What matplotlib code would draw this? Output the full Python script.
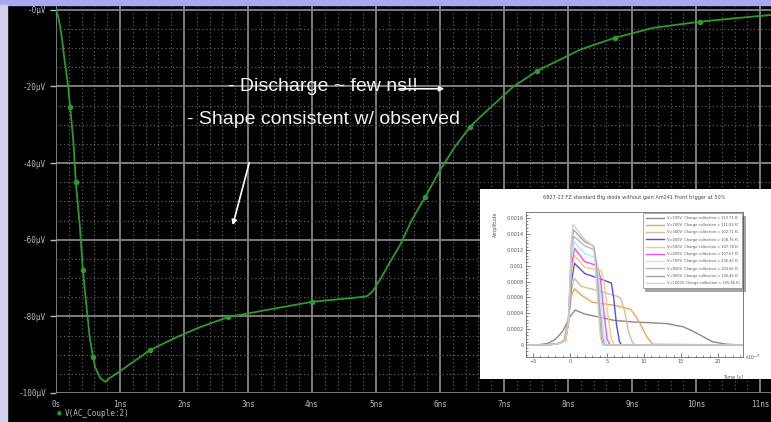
import matplotlib.pyplot as plt
import matplotlib.patches as patches
from matplotlib.ticker import MultipleLocator
import numpy as np

# LTspice transient: V(AC_Couple:2), time in ns, voltage in uV
t_ns = [0.0, 0.03, 0.06, 0.094, 0.125, 0.17, 0.19, 0.23, 0.27, 0.31, 0.375, 0.42, 0.48, 0.53,
        0.58, 0.61, 0.69, 0.77, 0.84, 1.0, 1.47, 1.86, 2.25, 2.69, 3.3, 4.0, 4.5, 4.8, 4.86,
        4.94, 5.06, 5.22, 5.375, 5.56, 5.77, 6.0, 6.23, 6.47, 6.63, 7.14, 7.52, 8.19, 8.73,
        9.33, 10.06, 10.6, 11.2]
v_uV = [0.0, -1.5, -4.0, -7.5, -12.0, -17.5, -20.0, -27.0, -34.0, -45.0, -57.0, -68.0, -78.0, -86.0,
        -90.5, -93.2, -96.1, -97.1, -96.1, -94.3, -88.8, -85.6, -82.8, -80.2, -78.3, -76.2, -75.4, -74.9, -74.7,
        -73.6, -70.5, -65.8, -61.4, -54.8, -48.8, -41.8, -35.8, -30.5, -27.9, -20.1, -15.9, -10.4, -7.3,
        -4.7, -3.1, -2.2, -1.3]
# simulation points shown as dots on the trace
dot_t = [0.22, 0.31, 0.42, 0.58, 1.47, 2.69, 4.0, 5.77, 6.47, 7.52, 8.73, 10.06]

x_ticks = [0, 1, 2, 3, 4, 5, 6, 7, 8, 9, 10, 11]
x_labels = ["0s", "1ns", "2ns", "3ns", "4ns", "5ns", "6ns", "7ns", "8ns", "9ns", "10ns", "11ns"]
y_ticks = [0, -20, -40, -60, -80, -100]
y_labels = ["-0µV", "-20µV", "-40µV", "-60µV", "-80µV", "-100µV"]

# measured pulses (time in 1e-9 s), one per bias voltage
pulse_names = ["V=100V  Charge collection = 113.71 fC", "V=200V  Charge collection = 111.03 fC",
               "V=300V  Charge collection = 102.71 fC", "V=400V  Charge collection = 108.76 fC",
               "V=500V  Charge collection = 107.78 fC", "V=600V  Charge collection = 107.67 fC",
               "V=700V  Charge collection = 106.45 fC", "V=800V  Charge collection = 104.66 fC",
               "V=900V  Charge collection = 106.46 fC", "V=1000V Charge collection = 105.66 fC"]
pulse_colors = ["#8a8a8a", "#e8a850", "#d8bc98", "#5050e8", "#f4c880",
                "#f050f0", "#b0ecf4", "#b4b4b4", "#a4a4a4", "#d0d0d0"]

t100 = [-6, -4.5, -3, -2, -1, 0, 0.7, 2, 4, 6, 8.6, 11, 13.1, 15.3, 16.5, 17.6, 19.3, 21.2, 23.4]
a100 = [0, 0, 0.00002, 0.00007, 0.00017, 0.00036, 0.00044, 0.00039, 0.00035, 0.00031, 0.00029,
        0.00028, 0.00027, 0.00023, 0.00018, 0.000126, 0.00004, 0.00001, 0]
t200 = [-6, -3, -1.5, -0.8, -0.3, 0.2, 0.6, 1.5, 3, 6, 8.2, 9, 9.6, 10.4, 11.2, 23.4]
a200 = [0, 0, 0.00002, 0.00006, 0.0003, 0.00062, 0.00071, 0.00063, 0.00054, 0.0005, 0.00045,
        0.00035, 0.00025, 0.0001, 0.00001, 0]
t300 = [-6, -3, -1.5, -0.6, -0.2, 0.2, 0.6, 1.5, 4, 6.5, 6.9, 7.4, 7.9, 8.4, 8.8, 23.4]
a300 = [0, 0, 0.00002, 0.00006, 0.0003, 0.0007, 0.00084, 0.00074, 0.00068, 0.00061, 0.00058,
        0.00042, 0.00018, 0.00004, 0, 0]
t400 = [-6, -3, -1.5, -0.6, -0.2, 0.2, 0.6, 2, 4.5, 5.6, 5.9, 6.3, 6.7, 7.0, 23.4]
a400 = [0, 0, 0.00002, 0.00006, 0.0003, 0.0008, 0.00103, 0.0009, 0.00082, 0.00078, 0.0006,
        0.00025, 0.00004, 0, 0]
t500 = [-6, -3, -1.5, -0.6, -0.2, 0.2, 0.6, 2, 4.2, 4.6, 5.1, 5.6, 6.0, 23.4]
a500 = [0, 0, 0.00002, 0.00006, 0.0003, 0.0009, 0.00113, 0.00098, 0.00094, 0.0008, 0.0004,
        0.00008, 0, 0]
t600 = [-6, -3, -1.5, -0.6, -0.2, 0.2, 0.6, 2, 3.7, 4.1, 4.6, 5.0, 5.4, 23.4]
a600 = [0, 0, 0.00002, 0.00006, 0.0003, 0.001, 0.00122, 0.00105, 0.001, 0.00085, 0.0004,
        0.00008, 0, 0]
t700 = [-6, -3, -1.5, -0.6, -0.2, 0.2, 0.6, 2, 3.5, 3.8, 4.2, 4.6, 5.0, 23.4]
a700 = [0, 0, 0.00002, 0.00006, 0.0003, 0.0011, 0.0013, 0.00115, 0.0011, 0.00095, 0.0005,
        0.0001, 0, 0]
t800 = [-6, -3, -1.5, -0.6, -0.2, 0.2, 0.5, 2, 3.3, 3.6, 4.0, 4.4, 4.7, 23.4]
a800 = [0, 0, 0.00002, 0.00006, 0.0003, 0.0012, 0.00137, 0.00125, 0.0012, 0.001, 0.0005,
        0.0001, 0, 0]
t900 = [-6, -3, -1.5, -0.6, -0.2, 0.2, 0.5, 2, 3.2, 3.5, 3.9, 4.2, 4.5, 23.4]
a900 = [0, 0, 0.00002, 0.00006, 0.0003, 0.0013, 0.00145, 0.0013, 0.00125, 0.00105, 0.0005,
        0.0001, 0, 0]
t1000 = [-6, -3, -1.5, -0.6, -0.2, 0.2, 0.4, 2, 3.1, 3.4, 3.8, 4.1, 4.4, 23.4]
a1000 = [0, 0, 0.00002, 0.00006, 0.0003, 0.0013, 0.00152, 0.00133, 0.00125, 0.00105, 0.0005,
         0.0001, 0, 0]
pulse_t = [t100, t200, t300, t400, t500, t600, t700, t800, t900, t1000]
pulse_a = [a100, a200, a300, a400, a500, a600, a700, a800, a900, a1000]

fig = plt.figure(figsize=(7.71, 4.22), dpi=100, facecolor="black")

# window frame strips
fig.patches.append(patches.Rectangle((0, 1 - 5 / 422), 1, 5 / 422, transform=fig.transFigure,
                                     color="#a8a8f4", zorder=0))
fig.patches.append(patches.Rectangle((0, 0), 7 / 771, 1 - 5 / 422, transform=fig.transFigure,
                                     color="#d2d2ee", zorder=0))

ax = fig.add_axes([56 / 771, 1 - 393 / 422, 1 - 56 / 771, (393 - 6) / 422])
ax.set_facecolor("black")
ax.set_xlim(0, 11.17)
ax.set_ylim(-100, 1.0)

ax.xaxis.set_minor_locator(MultipleLocator(0.2))
ax.yaxis.set_minor_locator(MultipleLocator(5))
ax.grid(which="major", color="#858585", lw=1.3)
ax.grid(which="minor", color="#5c5c5c", lw=0.9, linestyle=(0, (1, 2)))
ax.set_axisbelow(True)
for s in ax.spines.values():
    s.set_visible(False)

ax.set_xticks(x_ticks)
ax.set_xticklabels(x_labels)
ax.set_yticks(y_ticks)
ax.set_yticklabels(y_labels)
ax.tick_params(which="major", colors="#b8b8b8", labelsize=5.5, length=4, width=1.0, pad=3)
ax.tick_params(axis="x", length=0, pad=5)
ax.tick_params(which="minor", length=0)
for lab in ax.get_xticklabels() + ax.get_yticklabels():
    lab.set_family("DejaVu Sans Mono")

ax.plot(t_ns, v_uV, color="#2e9a2e", lw=1.3, zorder=3)
ax.plot(dot_t, np.interp(dot_t, t_ns, v_uV), "o", color="#2e9a2e", ms=3, zorder=3)

# notes on the plot
ax.text(2.69, -20.0, "- Discharge ~ few ns!!", color="#f2f2f2", fontsize=14,
        family="Liberation Sans", ha="left", va="center", zorder=5)
ax.text(2.05, -28.5, "- Shape consistent w/ observed", color="#f2f2f2", fontsize=14,
        family="Liberation Sans", ha="left", va="center", zorder=5)
ax.annotate("", xy=(6.11, -20.6), xytext=(5.33, -20.6),
            arrowprops=dict(arrowstyle="-|>", color="white", lw=1.2, mutation_scale=7), zorder=5)
ax.annotate("", xy=(2.75, -56.9), xytext=(3.03, -39.2),
            arrowprops=dict(arrowstyle="-|>", color="white", lw=1.2, mutation_scale=7), zorder=5)

# trace name below the plot
fig.text(59 / 771, 1 - 413 / 422, "●", color="#2e9a2e", fontsize=4, ha="center", va="center")
fig.text(65 / 771, 1 - 413 / 422, "V(AC_Couple:2)", color="#b8b8b8", fontsize=5.5,
         family="DejaVu Sans Mono", ha="left", va="center")

# pasted measurement plot
bg = fig.add_axes([480 / 771, 1 - 379 / 422, 291 / 771, 190 / 422])
bg.set_facecolor("white")
bg.set_xticks([])
bg.set_yticks([])
for s in bg.spines.values():
    s.set_visible(False)
bg.text(0.53, 0.955, "6827-13 FZ standard Big diode without gain Am241 Front trigger at 50%",
        transform=bg.transAxes, fontsize=3.6, ha="center", va="center", color="#444444")

ins = fig.add_axes([526 / 771, 1 - 357 / 422, 217 / 771, 145 / 422])
ins.set_facecolor("white")
for tt, aa, c, name in zip(pulse_t, pulse_a, pulse_colors, pulse_names):
    ins.plot(tt, aa, color=c, lw=1.0, label=name)
ins.set_xlim(-5.95, 23.4)
ins.set_ylim(-0.000151, 0.001676)
ins.set_xticks([-5, 0, 5, 10, 15, 20])
ins.set_yticks([0, 0.0002, 0.0004, 0.0006, 0.0008, 0.001, 0.0012, 0.0014, 0.0016])
ins.set_yticklabels(["0", "0.0002", "0.0004", "0.0006", "0.0008", "0.001", "0.0012", "0.0014", "0.0016"])
ins.xaxis.set_minor_locator(MultipleLocator(1))
ins.yaxis.set_minor_locator(MultipleLocator(0.00004))
ins.tick_params(which="both", direction="in", labelsize=3.5, colors="#555555", width=0.5, pad=1.5)
ins.tick_params(which="major", length=3)
ins.tick_params(which="minor", length=1.5)
for s in ins.spines.values():
    s.set_color("#666666")
    s.set_linewidth(0.6)
ins.text(1.0, -0.12, "Time [s]", transform=ins.transAxes, fontsize=3.5, ha="right", va="top",
         color="#555555")
ins.text(1.005, 0.0, "×10$^{-9}$", transform=ins.transAxes, fontsize=3.3, ha="left", va="center",
         color="#555555")
ins.text(-0.13, 1.0, "Amplitude", transform=ins.transAxes, fontsize=3.5, rotation=90,
         ha="right", va="top", color="#555555")
leg = ins.legend(loc="upper right", bbox_to_anchor=(1.005, 1.005), fontsize=2.6, frameon=True,
                 fancybox=False, shadow=True, handlelength=5, labelspacing=0.9,
                 borderpad=0.8, edgecolor="#888888")
leg.get_frame().set_linewidth(0.5)
for txt in leg.get_texts():
    txt.set_color("#555555")

fig.savefig("out.png", dpi=100, facecolor=fig.get_facecolor())
